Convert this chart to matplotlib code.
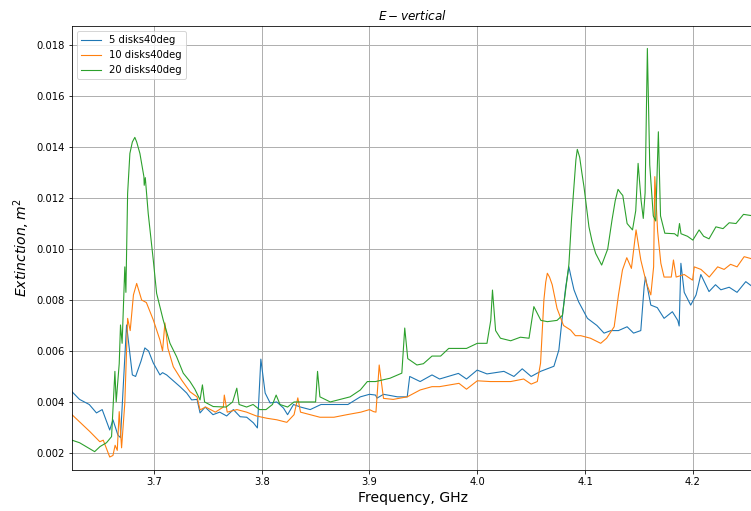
import matplotlib
matplotlib.use('Agg')
import matplotlib.pyplot as plt

# 5 disks 40deg
f5 = [3.624, 3.631, 3.640, 3.6467, 3.652, 3.659, 3.662, 3.6666, 3.669, 3.6746,
      3.680, 3.683, 3.688, 3.6916, 3.695, 3.6994, 3.7056, 3.708, 3.7118, 3.7242, 3.7304, 3.735,
      3.740, 3.7428, 3.7475, 3.7548, 3.761, 3.7675, 3.7737, 3.780, 3.7861, 3.7923,
      3.796, 3.7992, 3.8032, 3.8078, 3.814, 3.8202, 3.824, 3.8295, 3.836, 3.845,
      3.855, 3.867, 3.880, 3.8915, 3.900, 3.9056, 3.907, 3.913, 3.926, 3.935,
      3.9373, 3.947, 3.958, 3.965, 3.9825, 3.990, 3.9999, 4.009, 4.0247, 4.034,
      4.0417, 4.050, 4.0587, 4.0711, 4.0757, 4.0789, 4.082, 4.085, 4.087, 4.0897, 4.094, 4.1022,
      4.111, 4.1176, 4.124, 4.131, 4.139, 4.145, 4.1517, 4.1548, 4.156, 4.161,
      4.167, 4.1733, 4.181, 4.186, 4.1873, 4.1889, 4.192, 4.198, 4.203, 4.2074,
      4.215, 4.221, 4.226, 4.2337, 4.241, 4.2491, 4.256]
v5 = [0.0044, 0.0041, 0.0039, 0.00357, 0.0037, 0.0029, 0.0033, 0.0027, 0.0026, 0.00702,
      0.00506, 0.0050, 0.0056, 0.00612, 0.0060, 0.00553, 0.00506, 0.00515, 0.00506, 0.0046, 0.00435, 0.00408,
      0.0041, 0.00357, 0.0038, 0.0035, 0.0036, 0.00345, 0.0037, 0.00342, 0.0034, 0.00318,
      0.00298, 0.00568, 0.00435, 0.00396, 0.0040, 0.00376, 0.0035, 0.0039, 0.0038, 0.0037,
      0.0039, 0.0039, 0.0039, 0.0042, 0.0043, 0.00427, 0.00415, 0.0043, 0.0042, 0.0042,
      0.0050, 0.0048, 0.00506, 0.0049, 0.00512, 0.0049, 0.00525, 0.0051, 0.0052, 0.0050,
      0.0053, 0.0050, 0.0052, 0.0054, 0.00604, 0.00734, 0.0085, 0.0093, 0.0089, 0.0084, 0.00793, 0.00728,
      0.0070, 0.0067, 0.0068, 0.0068, 0.00695, 0.0067, 0.0068, 0.00852, 0.0089, 0.0078,
      0.0077, 0.00728, 0.00754, 0.0072, 0.00698, 0.00944, 0.0083, 0.0078, 0.0082, 0.0090,
      0.00833, 0.0086, 0.0084, 0.0085, 0.0083, 0.00872, 0.0085]

# 10 disks 40deg
f10 = [3.624, 3.6405, 3.6498, 3.653, 3.659, 3.662, 3.664, 3.666, 3.6678, 3.670,
       3.673, 3.6756, 3.678, 3.681, 3.684, 3.6865, 3.6886, 3.693, 3.6994, 3.7056, 3.708, 3.7102,
       3.713, 3.718, 3.7257, 3.7335, 3.740, 3.7428, 3.748, 3.757, 3.7644, 3.7653,
       3.768, 3.777, 3.786, 3.795, 3.8048, 3.814, 3.8233, 3.830, 3.8335, 3.836,
       3.845, 3.854, 3.867, 3.879, 3.892, 3.900, 3.9038, 3.906, 3.909, 3.913,
       3.922, 3.935, 3.947, 3.958, 3.965, 3.983, 3.990, 4.000, 4.012, 4.031,
       4.043, 4.050, 4.0557, 4.0587, 4.0618, 4.0635, 4.065, 4.067, 4.0695, 4.074, 4.080, 4.0866,
       4.091, 4.096, 4.105, 4.1145, 4.120, 4.127, 4.131, 4.1347, 4.1387, 4.143,
       4.1473, 4.1517, 4.157, 4.161, 4.1636, 4.1647, 4.1673, 4.1703, 4.1733, 4.180,
       4.182, 4.1845, 4.192, 4.1997, 4.2013, 4.2075, 4.2152, 4.223, 4.229, 4.235,
       4.241, 4.2476, 4.256]
v10 = [0.0035, 0.00284, 0.00244, 0.0025, 0.00184, 0.0019, 0.0023, 0.0021, 0.00362, 0.0022,
       0.00396, 0.00728, 0.0068, 0.0082, 0.00865, 0.0083, 0.0080, 0.0079, 0.00722, 0.00643, 0.0060, 0.0071,
       0.0061, 0.00538, 0.00486, 0.0044, 0.0042, 0.00369, 0.0038, 0.0036, 0.0038, 0.00427,
       0.0036, 0.0037, 0.0036, 0.00345, 0.00336, 0.0033, 0.0032, 0.0035, 0.00416, 0.0036,
       0.0035, 0.0034, 0.0034, 0.0035, 0.0036, 0.0037, 0.00362, 0.0036, 0.00545, 0.00414,
       0.0041, 0.0042, 0.00447, 0.0046, 0.0046, 0.00473, 0.0045, 0.00483, 0.0048, 0.0048,
       0.0049, 0.0047, 0.0048, 0.00552, 0.0080, 0.0087, 0.00905, 0.0089, 0.0086, 0.00767, 0.0070, 0.00682,
       0.0066, 0.0066, 0.0065, 0.0063, 0.0065, 0.00695, 0.0082, 0.00918, 0.00966, 0.00924,
       0.01075, 0.00957, 0.00865, 0.0082, 0.0093, 0.01284, 0.0107, 0.00944, 0.0089, 0.0089,
       0.00957, 0.0089, 0.0090, 0.00878, 0.0093, 0.0092, 0.0089, 0.0093, 0.0092, 0.0094,
       0.0093, 0.0097, 0.0096]

# 20 disks 40deg
f20 = [3.624, 3.631, 3.637, 3.645, 3.650, 3.656, 3.6607, 3.6638, 3.665, 3.6678,
       3.669, 3.6705, 3.673, 3.674, 3.6756, 3.6777, 3.680, 3.6823, 3.684, 3.687, 3.6907, 3.691,
       3.692, 3.6947, 3.6994, 3.7025, 3.7086, 3.7149, 3.721, 3.7272, 3.7335, 3.738,
       3.7428, 3.745, 3.747, 3.755, 3.767, 3.773, 3.7769, 3.779, 3.786, 3.792,
       3.798, 3.804, 3.810, 3.8134, 3.817, 3.824, 3.830, 3.842, 3.850, 3.8518,
       3.854, 3.8636, 3.873, 3.882, 3.8915, 3.898, 3.9056, 3.919, 3.930, 3.9327,
       3.9355, 3.944, 3.950, 3.958, 3.966, 3.9735, 3.981, 3.990, 4.000, 4.009,
       4.0125, 4.0141, 4.017, 4.0215, 4.031, 4.040, 4.048, 4.0525, 4.059, 4.065,
       4.074, 4.079, 4.085, 4.0875, 4.0897, 4.0915, 4.0928, 4.095, 4.097, 4.099, 4.1036, 4.1065, 4.1098, 4.1154,
       4.121, 4.125, 4.128, 4.1306, 4.133, 4.135, 4.139, 4.144, 4.147, 4.1492, 4.152, 4.154,
       4.1557, 4.1578, 4.160, 4.1633, 4.1655, 4.168, 4.170, 4.174, 4.183, 4.186,
       4.1876, 4.189, 4.195, 4.200, 4.2058, 4.210, 4.215, 4.2214, 4.228, 4.2337,
       4.240, 4.247, 4.256]
v20 = [0.0025, 0.0024, 0.00225, 0.00205, 0.00225, 0.0024, 0.00264, 0.0052, 0.0040, 0.0055,
       0.00702, 0.0063, 0.0093, 0.0083, 0.01218, 0.01375, 0.0142, 0.01438, 0.0142, 0.01375, 0.01284, 0.0125,
       0.0128, 0.0114, 0.00957, 0.00826, 0.00722, 0.0063, 0.00578, 0.00513, 0.0048, 0.0045,
       0.00408, 0.00467, 0.0040, 0.00382, 0.0038, 0.0040, 0.00454, 0.0039, 0.0038, 0.0039,
       0.0037, 0.0037, 0.0039, 0.00427, 0.0039, 0.0038, 0.0040, 0.0040, 0.0040, 0.0052,
       0.0042, 0.0040, 0.0041, 0.0042, 0.00447, 0.0048, 0.0048, 0.00493, 0.00513, 0.0069,
       0.0057, 0.00545, 0.0055, 0.0058, 0.0058, 0.0061, 0.0061, 0.0061, 0.0063, 0.0063,
       0.0072, 0.00839, 0.0068, 0.0065, 0.0064, 0.00654, 0.0065, 0.00774, 0.0072, 0.00715,
       0.0072, 0.0074, 0.0094, 0.0112, 0.01244, 0.0135, 0.01391, 0.0136, 0.0130, 0.01244, 0.01087, 0.0103, 0.00983, 0.00937,
       0.0100, 0.01114, 0.0119, 0.01234, 0.0122, 0.0121, 0.0110, 0.01075, 0.0115, 0.01336, 0.0119, 0.0112,
       0.0122, 0.01787, 0.0133, 0.0113, 0.0111, 0.0146, 0.0113, 0.01062, 0.0106, 0.0105,
       0.0110, 0.0106, 0.0105, 0.01035, 0.01075, 0.0105, 0.0104, 0.01087, 0.0108, 0.01103,
       0.0110, 0.01136, 0.0113]

fig = plt.figure(figsize=(751 / 72, 511 / 72), dpi=72)
# axes runs off the right edge of the image, like the cropped original
ax = fig.add_axes([72 / 751, 41 / 511, 681 / 751, 444 / 511])

ax.plot(f5, v5, label='5 disks40deg', lw=1.1)
ax.plot(f10, v10, label='10 disks40deg', lw=1.1)
ax.plot(f20, v20, label='20 disks40deg', lw=1.1)

ax.set_xlim(3.624, 4.2558)
ax.set_ylim(0.00133, 0.01875)
ax.set_xticks([3.7, 3.8, 3.9, 4.0, 4.1, 4.2])
ax.set_yticks([0.002, 0.004, 0.006, 0.008, 0.010, 0.012, 0.014, 0.016, 0.018])
ax.grid(True, color='#b0b0b0', lw=1.0)

ax.set_title('$E-vertical$', fontsize=12)
ax.set_ylabel('$Extinction, m^2$', fontsize=14)
ax.set_xlabel('Frequency, GHz', fontsize=14)
ax.legend(loc='upper left')

fig.savefig('out.png', dpi=72)
